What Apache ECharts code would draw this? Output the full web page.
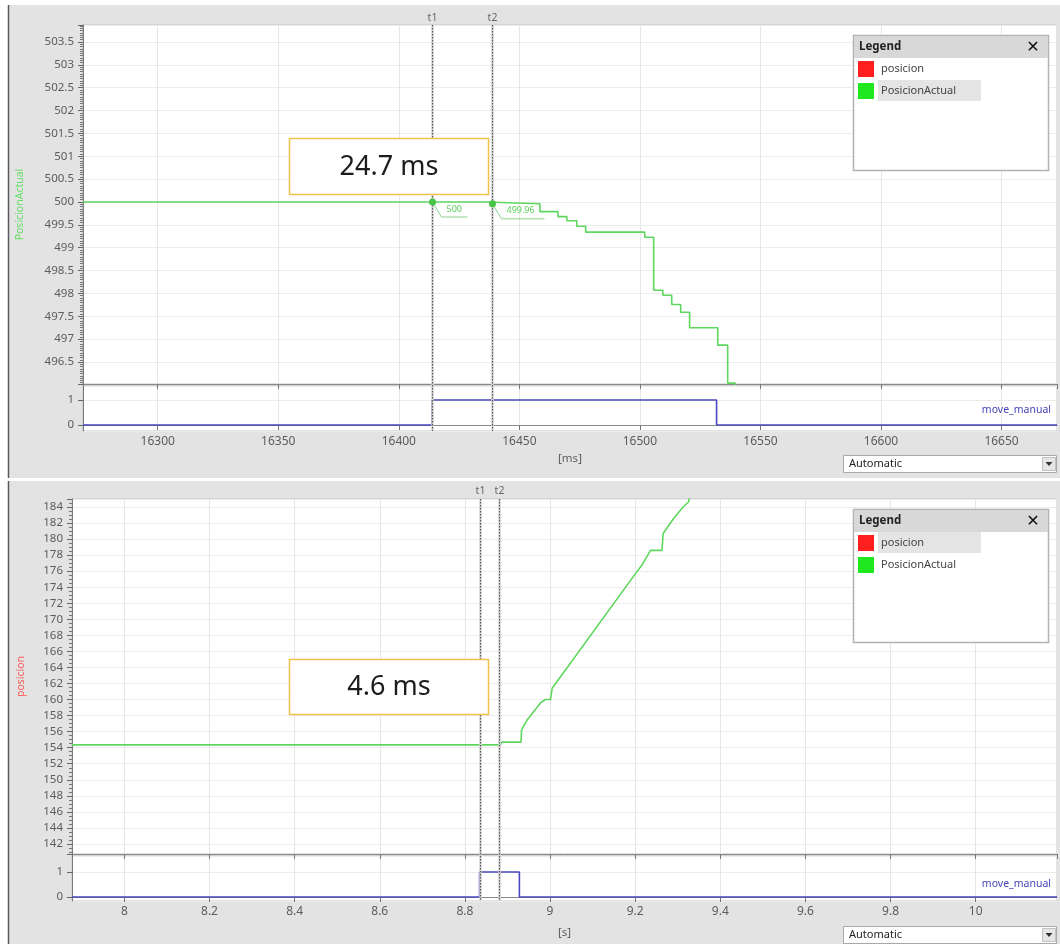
<!DOCTYPE html>
<html><head><meta charset="utf-8">
<script src="https://cdn.jsdelivr.net/npm/echarts@6/dist/echarts.min.js"></script>
<style>html,body{margin:0;padding:0;background:#fff}#c{width:1060px;height:944px}</style>
</head><body><div id="c"></div>
<script>
// ---------------- DATA ----------------
// Upper trace (time in ms)
const topTimeMs = [16269, 16436, 16458.5, 16466, 16469.7, 16473.8, 16477.5, 16502, 16505.7, 16509.5, 16513.2, 16516.9, 16520.6, 16532.3, 16536.4, 16539.5];
const topPosicionActual = [500, 499.96, 499.79, 499.68, 499.59, 499.47, 499.34, 499.23, 498.07, 497.96, 497.76, 497.59, 497.25, 496.87, 496.04, 495];
const topMoveTimeMs = [16269, 16413.7, 16531.8, 16673];
const topMoveManual = [0, 1, 0, 0];
const topCursorsMs = [16413.7, 16438.6];
const topCursorPos = [500, 499.96];
const topCursorLabels = ['500', '499.96'];
const topDeltaText = '24.7 ms';

// Lower trace (time in s)
const botTimeS = [7.877, 8.884, 8.886, 8.932, 8.933, 8.946, 8.978, 8.989, 9.001, 9.005, 9.2007, 9.2164, 9.236, 9.263, 9.2657, 9.2906, 9.3127, 9.3258, 9.3275, 9.334];
const botPosicionActual = [154.35, 154.35, 154.7, 154.7, 156.2, 157.45, 159.6, 160.0, 160.0, 161.4, 175.7, 176.8, 178.6, 178.6, 180.7, 182.6, 184.0, 184.66, 185.3, 187];
const botMoveTimeS = [7.877, 8.8345, 8.928, 10.191];
const botMoveManual = [0, 1, 0, 0];
const botCursorsS = [8.8345, 8.88];
const botDeltaText = '4.6 ms';

const cursorNames = ['t1', 't2'];
const legendNames = ['posicion', 'PosicionActual'];
const legendColors = ['#ff1f1f', '#1fe81f'];
const boolName = 'move_manual';

// ---------------- CHART ----------------
const FONT = 'Noto Sans';
const LBL = '#5c5c5c';
const GREEN = '#5fd75f';
const BLUE = '#4848c0';
const pair = (xs, ys) => xs.map((x, i) => [x, ys[i]]);
const fmt = v => String(+(+v).toFixed(3));

function xAx(gi, min, max, step, showLabels, name, nameGap) {
  return {
    type: 'value', gridIndex: gi, min, max, minInterval: step, maxInterval: step,
    axisLine: { show: true, lineStyle: { color: '#8a8a8a', width: 1 } },
    axisTick: { show: true, length: 5, lineStyle: { color: '#777' } },
    axisLabel: { show: showLabels, formatter: fmt, showMinLabel: false, showMaxLabel: false,
      fontSize: 12, color: LBL, fontFamily: FONT, margin: 5 },
    splitLine: { show: true, lineStyle: { color: '#e6e6e6', width: 1 } },
    name: name || '', nameLocation: 'middle', nameGap: nameGap || 20,
    nameTextStyle: { color: LBL, fontSize: 11.5, fontFamily: FONT }
  };
}
function yAx(gi, min, max, step, minorN, name, nameColor, nameGap) {
  return {
    type: 'value', gridIndex: gi, min, max, minInterval: step, maxInterval: step,
    axisLine: { show: true, lineStyle: { color: '#7a7a7a', width: 1 } },
    axisTick: { show: true, length: 5, lineStyle: { color: '#666' } },
    minorTick: { show: minorN > 0, splitNumber: minorN || 5, length: 3, lineStyle: { color: '#777', width: 1 } },
    axisLabel: { formatter: fmt, showMinLabel: false, showMaxLabel: false,
      fontSize: 11.5, color: LBL, fontFamily: FONT, margin: 9 },
    splitLine: { show: true, lineStyle: { color: '#ececec', width: 1 } },
    name: name || '', nameLocation: 'middle', nameRotate: 90, nameGap: nameGap || 20,
    nameTextStyle: { color: nameColor || LBL, fontSize: 10.5, fontFamily: FONT }
  };
}
const gridBase = { show: true, backgroundColor: '#fff', borderColor: '#c4c4c4', borderWidth: 1, outerBoundsMode: 'none', containLabel: false };

const option = {
  animation: false,
  backgroundColor: '#fff',
  grid: [
    Object.assign({ left: 83, top: 25, width: 974, height: 359 }, gridBase),
    Object.assign({ left: 83, top: 386, width: 974, height: 45 }, gridBase),
    Object.assign({ left: 72, top: 499, width: 985, height: 355 }, gridBase),
    Object.assign({ left: 72, top: 856, width: 985, height: 45 }, gridBase)
  ],
  xAxis: [
    xAx(0, 16269, 16673, 50, false),
    xAx(1, 16269, 16673, 50, true, '[ms]', 22),
    xAx(2, 7.877, 10.191, 0.2, false),
    xAx(3, 7.877, 10.191, 0.2, true, '[s]', 26)
  ],
  yAxis: [
    yAx(0, 496.02, 503.87, 0.5, 10, 'PosicionActual', '#66dd66', 57),
    yAx(1, -0.24, 1.56, 1, 0),
    yAx(2, 140.75, 185.0, 2, 4, 'posicion', '#ff5a5a', 45),
    yAx(3, -0.16, 1.64, 1, 0)
  ],
  series: [
    { type: 'line', xAxisIndex: 0, yAxisIndex: 0, step: 'end', showSymbol: false, clip: true,
      data: pair(topTimeMs, topPosicionActual), lineStyle: { color: GREEN, width: 1.6 }, itemStyle: { color: GREEN } },
    { type: 'line', xAxisIndex: 1, yAxisIndex: 1, step: 'end', showSymbol: false, clip: true,
      data: pair(topMoveTimeMs, topMoveManual), lineStyle: { color: BLUE, width: 1.6 }, itemStyle: { color: BLUE } },
    { type: 'line', xAxisIndex: 2, yAxisIndex: 2, showSymbol: false, clip: true,
      data: pair(botTimeS, botPosicionActual), lineStyle: { color: GREEN, width: 1.6 }, itemStyle: { color: GREEN } },
    { type: 'line', xAxisIndex: 3, yAxisIndex: 3, step: 'end', showSymbol: false, clip: true,
      data: pair(botMoveTimeS, botMoveManual), lineStyle: { color: BLUE, width: 1.6 }, itemStyle: { color: BLUE } }
  ]
};

const chart = echarts.init(document.getElementById('c'), null, { renderer: 'canvas', width: 1060, height: 944 });
chart.setOption(option);

// ---------------- OVERLAYS ----------------
const G = [];
// panel backgrounds
G.push({ type: 'rect', z: -5, shape: { x: 8, y: 5, width: 1052, height: 473 }, style: { fill: '#e3e3e3' } });
G.push({ type: 'rect', z: -5, shape: { x: 8, y: 481, width: 1052, height: 463 }, style: { fill: '#e3e3e3' } });
G.push({ type: 'line', z: -4, shape: { x1: 8.5, y1: 5, x2: 8.5, y2: 478 }, style: { stroke: '#5a5a5a', lineWidth: 1.5 } });
G.push({ type: 'line', z: -4, shape: { x1: 8.5, y1: 481, x2: 8.5, y2: 944 }, style: { stroke: '#5a5a5a', lineWidth: 1.5 } });

function cursors(xAxisIndex, times, yTop, yBot, yLabel) {
  times.forEach((t, i) => {
    const x = Math.round(chart.convertToPixel({ xAxisIndex }, t)) + 0.5;
    G.push({ type: 'line', z: 40, shape: { x1: x, y1: yTop, x2: x, y2: yBot }, style: { stroke: '#d2d2d2', lineWidth: 2.5 } });
    G.push({ type: 'line', z: 41, shape: { x1: x, y1: yTop, x2: x, y2: yBot }, style: { stroke: '#555', lineWidth: 1, lineDash: [1.5, 1.5] } });
    G.push({ type: 'text', z: 41, x: x, y: yLabel, style: { text: cursorNames[i], fill: '#666', fontSize: 10.5, fontFamily: FONT, align: 'center', verticalAlign: 'middle' } });
  });
}
cursors(0, topCursorsMs, 25, 431, 18);
cursors(2, botCursorsS, 499, 901, 491);

// cursor value markers on upper trace
topCursorsMs.forEach((t, i) => {
  const p = chart.convertToPixel({ gridIndex: 0 }, [t, topCursorPos[i]]);
  const cx = Math.round(p[0]) + 0.5, cy = p[1];
  const len = i === 0 ? 35 : 52;
  G.push({ type: 'polyline', z: 45, shape: { points: [[cx, cy], [cx + 9, cy + 15], [cx + len, cy + 15]] }, style: { stroke: '#8ccf8c', lineWidth: 1, fill: 'none' } });
  G.push({ type: 'circle', z: 46, shape: { cx, cy, r: 3.5 }, style: { fill: '#45c445' } });
  G.push({ type: 'text', z: 46, x: cx + 14, y: cy + 7, style: { text: topCursorLabels[i], fill: '#58d058', fontSize: 9, fontFamily: FONT, verticalAlign: 'middle' } });
});

// delta annotation boxes
function deltaBox(y, h, text) {
  G.push({ type: 'rect', z: 70, shape: { x: 289.5, y: y + 0.5, width: 199, height: h }, style: { fill: '#fff', stroke: '#f0c24a', lineWidth: 1.5 } });
  G.push({ type: 'text', z: 71, x: 389, y: y + h / 2 + 1, style: { text, fontSize: 27, fill: '#1c1c1c', fontFamily: FONT, align: 'center', verticalAlign: 'middle' } });
}
deltaBox(138, 56, topDeltaText);
deltaBox(659, 55, botDeltaText);

// legend windows
function legendBox(y, h, hiIdx) {
  const x = 853;
  G.push({ type: 'rect', z: 60, shape: { x: x + 0.5, y: y + 0.5, width: 195, height: h }, style: { fill: '#fff', stroke: '#b2b2b2', lineWidth: 1.5 } });
  G.push({ type: 'rect', z: 61, shape: { x: x + 1, y: y + 1, width: 194, height: 22 }, style: { fill: '#d8d8d8' } });
  G.push({ type: 'text', z: 62, x: x + 6, y: y + 12, style: { text: 'Legend', fontWeight: 'bold', fontSize: 11.5, fill: '#222', fontFamily: FONT, verticalAlign: 'middle' } });
  G.push({ type: 'text', z: 62, x: x + 180, y: y + 13, style: { text: '✕', fontWeight: 'bold', fontSize: 16, fill: '#111', fontFamily: 'DejaVu Sans', align: 'center', verticalAlign: 'middle' } });
  legendNames.forEach((n, i) => {
    const cy = y + 34 + i * 22;
    if (i === hiIdx) G.push({ type: 'rect', z: 61, shape: { x: 878, y: cy - 11, width: 103, height: 21 }, style: { fill: '#e4e4e4' } });
    G.push({ type: 'rect', z: 62, shape: { x: 858, y: cy - 8, width: 16, height: 16 }, style: { fill: legendColors[i] } });
    G.push({ type: 'text', z: 62, x: 881, y: cy, style: { text: n, fontSize: 11, fill: '#444', fontFamily: FONT, verticalAlign: 'middle' } });
  });
}
legendBox(35, 135, 1);
legendBox(509, 133, 0);

// channel name in bool plots
G.push({ type: 'text', z: 50, x: 1051, y: 410, style: { text: boolName, fontSize: 10.5, fill: '#4646b8', fontFamily: FONT, align: 'right', verticalAlign: 'middle' } });
G.push({ type: 'text', z: 50, x: 1051, y: 884, style: { text: boolName, fontSize: 10.5, fill: '#4646b8', fontFamily: FONT, align: 'right', verticalAlign: 'middle' } });

// "Automatic" dropdowns
function dropdown(y) {
  G.push({ type: 'rect', z: 60, shape: { x: 843.5, y: y + 0.5, width: 213, height: 17 }, style: { fill: '#fff', stroke: '#a8a8a8', lineWidth: 1 } });
  G.push({ type: 'text', z: 61, x: 849, y: y + 9, style: { text: 'Automatic', fontSize: 11, fill: '#222', fontFamily: FONT, verticalAlign: 'middle' } });
  G.push({ type: 'rect', z: 61, shape: { x: 1042.5, y: y + 2.5, width: 13, height: 13 }, style: { fill: '#e6e6e6', stroke: '#c2c2c2' } });
  G.push({ type: 'polygon', z: 62, shape: { points: [[1045.5, y + 7], [1052.5, y + 7], [1049, y + 11]] }, style: { fill: '#333' } });
}
dropdown(455);
dropdown(926);

chart.setOption({ graphic: { elements: G } });
</script>
</body></html>
